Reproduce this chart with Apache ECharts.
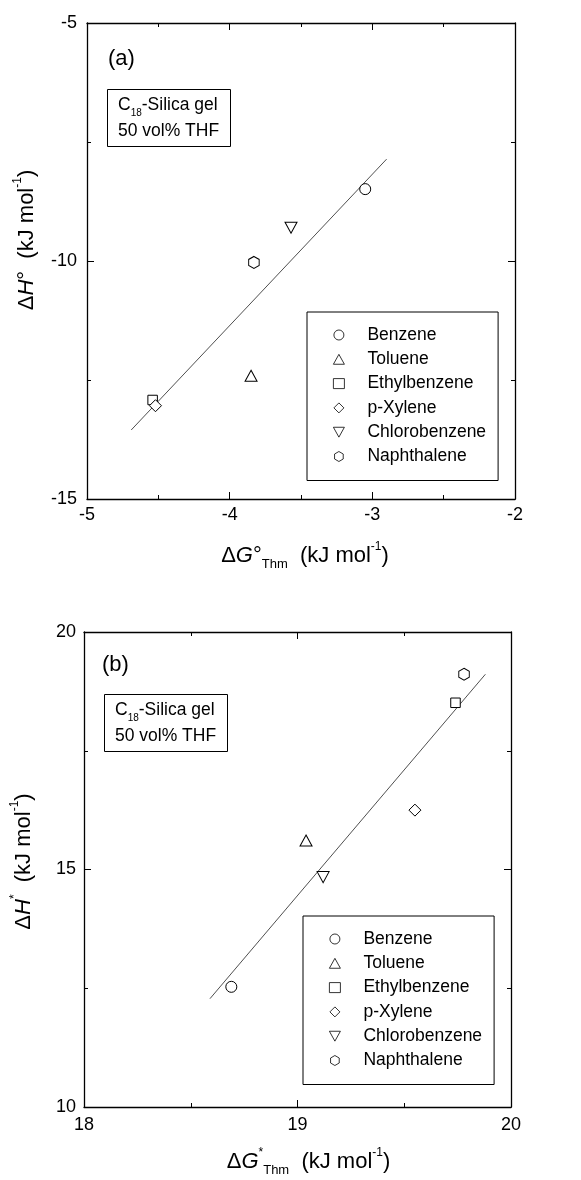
<!DOCTYPE html>
<html>
<head>
<meta charset="utf-8">
<script src="https://cdn.jsdelivr.net/npm/echarts@6/dist/echarts.min.js"></script>
<style>
html,body{margin:0;padding:0;background:#fff;}
#chart{width:581px;height:1180px;}
</style>
</head>
<body>
<div id="chart"></div>
<script>
// ---- data ----
const compounds = ['Benzene', 'Toluene', 'Ethylbenzene', 'p-Xylene', 'Chlorobenzene', 'Naphthalene'];
// panel (a)
const dGThmA = [-3.05, -3.85, -4.54, -4.52, -3.57, -3.83];
const dHA    = [-8.49, -12.41, -12.92, -13.04, -9.30, -10.03];
const fitAX  = [-4.69, -2.90];
const fitAY  = [-13.55, -7.86];
const xRangeA = [-5, -2];
const yRangeA = [-15, -5];
// panel (b)
const dGThmB = [18.69, 19.04, 19.74, 19.55, 19.12, 19.78];
const dHB    = [12.53, 15.61, 18.51, 16.25, 14.84, 19.11];
const fitBX  = [18.59, 19.88];
const fitBY  = [12.28, 19.11];
const xRangeB = [18, 20];
const yRangeB = [10, 20];

// ---- styles ----
const FONT = 'Liberation Sans, Arial, Helvetica, sans-serif';
const symbols = {
  'Benzene':       {symbol: 'circle', size: 11},
  'Toluene':       {symbol: 'path://M0,-1L1,0.8L-1,0.8Z', size: [12, 11]},
  'Ethylbenzene':  {symbol: 'rect', size: 9.5},
  'p-Xylene':      {symbol: 'path://M0,-1L1,0L0,1L-1,0Z', size: 12},
  'Chlorobenzene': {symbol: 'path://M-1,-0.8L1,-0.8L0,1Z', size: [12, 11]},
  'Naphthalene':   {symbol: 'path://M0,-1L0.866,-0.5L0.866,0.5L0,1L-0.866,0.5L-0.866,-0.5Z', size: [10.5, 12]}
};

const nameRich = {
  n:   {fontSize: 22, lineHeight: 30, fontFamily: FONT, color: '#000'},
  i:   {fontSize: 22, lineHeight: 30, fontFamily: FONT, fontStyle: 'italic', color: '#000'},
  sup: {fontSize: 12, lineHeight: 16, fontFamily: FONT, verticalAlign: 'top', color: '#000'},
  sub: {fontSize: 13, lineHeight: 12, fontFamily: FONT, verticalAlign: 'bottom', color: '#000'}
};
const boxRich = {
  t:   {fontSize: 17.5, lineHeight: 26, fontFamily: FONT, color: '#000'},
  sub: {fontSize: 10, lineHeight: 14, fontFamily: FONT, verticalAlign: 'bottom', color: '#000'}
};

function mkAxis(kind, grid, range, interval, pos, showLabel, labelMargin, name, nameGap, namePad) {
  const ax = {
    type: 'value', gridIndex: grid, position: pos,
    min: range[0], max: range[1], interval: interval,
    axisLine: {show: true, onZero: false, lineStyle: {color: '#000', width: 1.3}},
    axisTick: {show: true, inside: true, length: 7, lineStyle: {color: '#000', width: 1}},
    minorTick: {show: true, splitNumber: 2, length: 4, lineStyle: {color: '#000', width: 1}},
    splitLine: {show: false},
    minorSplitLine: {show: false},
    axisLabel: {show: showLabel, fontSize: 18, fontFamily: FONT, color: '#000', margin: labelMargin},
    nameMoveOverlap: false
  };
  if (name) {
    ax.name = name;
    ax.nameLocation = 'middle';
    ax.nameGap = nameGap;
    if (kind === 'y') ax.nameRotate = 90;
    ax.nameTextStyle = {rich: nameRich, padding: namePad, fontSize: 22, fontFamily: FONT, color: '#000'};
  }
  return ax;
}

const xAxes = [
  mkAxis('x', 0, xRangeA, 1, 'bottom', true, 7,
    '{n|Δ}{i|G}{n|°}{sub|Thm}{n|  (kJ mol}{sup|-1}{n|)}', 42, [0, 0, 0, 8]),
  mkAxis('x', 0, xRangeA, 1, 'top', false, 0),
  mkAxis('x', 1, xRangeB, 1, 'bottom', true, 9,
    '{n|Δ}{i|G}{sup|*}{sub|Thm}{n|  (kJ mol}{sup|-1}{n|)}', 40, [0, 0, 0, 22]),
  mkAxis('x', 1, xRangeB, 1, 'top', false, 0)
];
const yAxes = [
  mkAxis('y', 0, yRangeA, 5, 'left', true, 10,
    '{n|Δ}{i|H}{n|°  (kJ mol}{sup|-1}{n|)}', 45, [0, 0, 0, 42]),
  mkAxis('y', 0, yRangeA, 5, 'right', false, 0),
  mkAxis('y', 1, yRangeB, 5, 'left', true, 8,
    '{n|Δ}{i|H}{sup|*}{n|  (kJ mol}{sup|-1}{n|)}', 45, [0, 0, 0, 16]),
  mkAxis('y', 1, yRangeB, 5, 'right', false, 0)
];

const series = [];
// fit lines
series.push({
  type: 'line', xAxisIndex: 0, yAxisIndex: 0, silent: true, symbol: 'none', z: 1,
  lineStyle: {color: '#222', width: 0.8},
  data: fitAX.map((x, k) => [x, fitAY[k]])
});
series.push({
  type: 'line', xAxisIndex: 2, yAxisIndex: 2, silent: true, symbol: 'none', z: 1,
  lineStyle: {color: '#222', width: 0.8},
  data: fitBX.map((x, k) => [x, fitBY[k]])
});
compounds.forEach((c, k) => {
  const s = symbols[c];
  const common = {
    type: 'scatter', name: c, symbol: s.symbol, symbolSize: s.size, z: 3,
    itemStyle: {color: '#fff', borderColor: '#000', borderWidth: 1, opacity: 1}
  };
  series.push(Object.assign({}, common, {xAxisIndex: 0, yAxisIndex: 0, data: [[dGThmA[k], dHA[k]]]}));
  series.push(Object.assign({}, common, {xAxisIndex: 2, yAxisIndex: 2, data: [[dGThmB[k], dHB[k]]]}));
});

function mkLegend(left, top) {
  return {
    data: compounds, orient: 'vertical', left: left, top: top,
    itemWidth: 11, itemHeight: 10, itemGap: 6.3,
    padding: [14, 12, 15, 26],
    borderColor: '#000', borderWidth: 1, backgroundColor: '#fff',
    selectedMode: false,
    itemStyle: {color: '#fff', borderColor: '#000', borderWidth: 0.8},
    textStyle: {fontSize: 17.5, lineHeight: 18, fontFamily: FONT, color: '#000', padding: [0, 0, 0, 18]}
  };
}

const option = {
  animation: false,
  backgroundColor: '#fff',
  grid: [
    {left: 87, top: 23, width: 428, height: 476, containLabel: false, outerBoundsMode: 'none'},
    {left: 84, top: 632, width: 427, height: 475, containLabel: false, outerBoundsMode: 'none'}
  ],
  xAxis: xAxes,
  yAxis: yAxes,
  title: [
    {text: '(a)', left: 108, top: 46, padding: 0, textStyle: {fontSize: 22, lineHeight: 26, fontWeight: 'normal', fontFamily: FONT, color: '#000'}},
    {text: '{t|C}{sub|18}{t|-Silica gel}\n{t|50 vol% THF}', left: 107, top: 85, padding: [7, 12, 7, 11],
      borderColor: '#000', borderWidth: 1, backgroundColor: '#fff',
      textStyle: {rich: boxRich, fontSize: 17.5, fontWeight: 'normal', fontFamily: FONT, color: '#000'}},
    {text: '(b)', left: 102, top: 652, padding: 0, textStyle: {fontSize: 22, lineHeight: 26, fontWeight: 'normal', fontFamily: FONT, color: '#000'}},
    {text: '{t|C}{sub|18}{t|-Silica gel}\n{t|50 vol% THF}', left: 104, top: 690, padding: [7, 12, 7, 11],
      borderColor: '#000', borderWidth: 1, backgroundColor: '#fff',
      textStyle: {rich: boxRich, fontSize: 17.5, fontWeight: 'normal', fontFamily: FONT, color: '#000'}}
  ],
  legend: [mkLegend(307, 312), mkLegend(303, 916)],
  series: series
};

const chart = echarts.init(document.getElementById('chart'), null, {renderer: 'canvas'});
chart.setOption(option);
</script>
</body>
</html>
